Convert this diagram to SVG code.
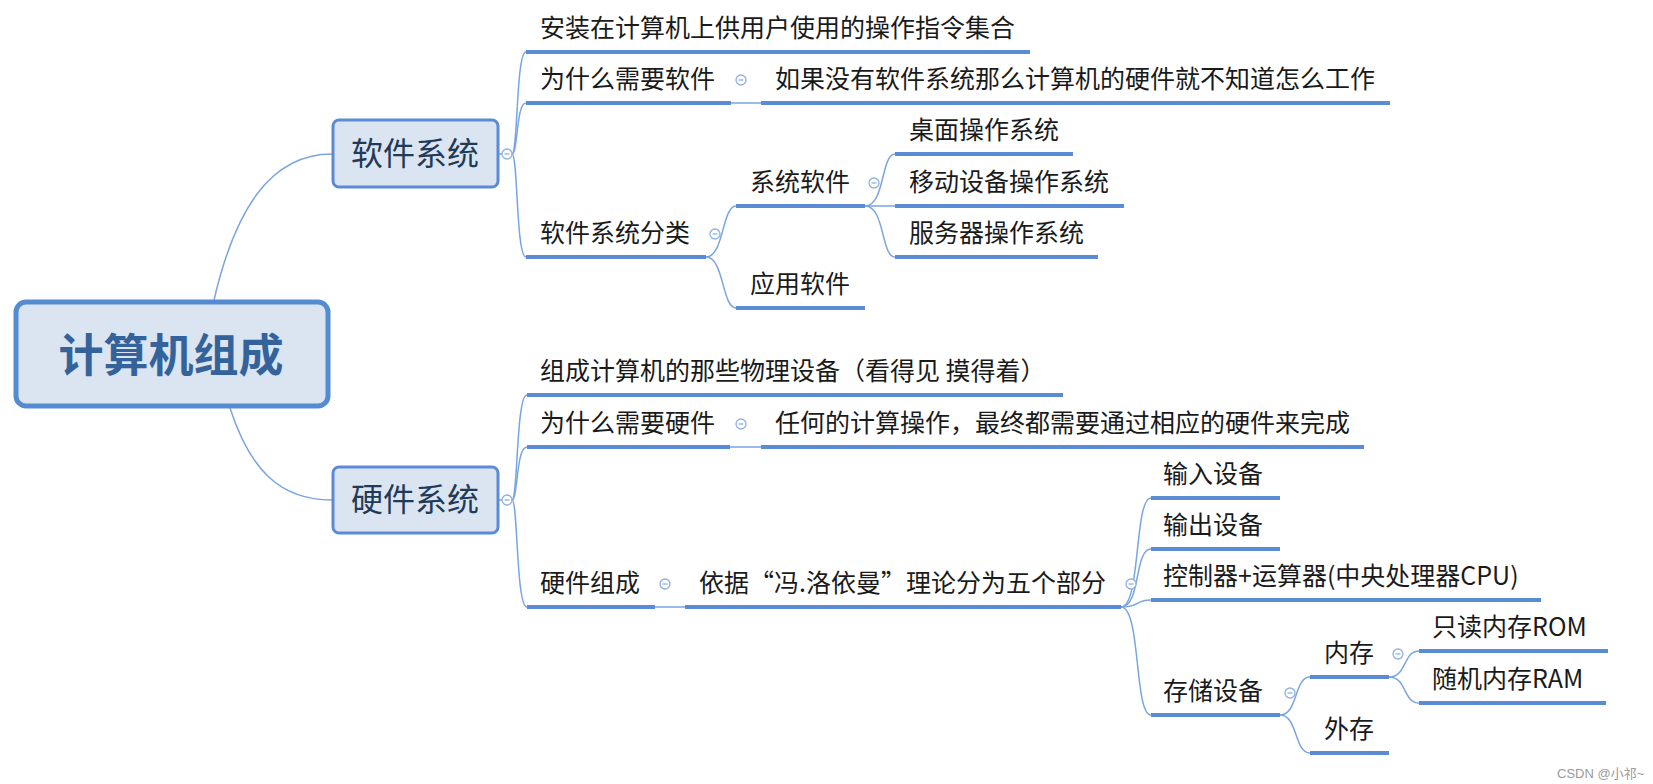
<svg xmlns="http://www.w3.org/2000/svg" xmlns:xlink="http://www.w3.org/1999/xlink" width="1653" height="784" viewBox="0 0 1653 784">
<style>
.t{font-family:"Noto Sans CJK SC","Microsoft YaHei",sans-serif;font-size:25px;fill:#1a1a1a}
.ul{stroke:#5b8bd5;stroke-width:4;fill:none}
.br{stroke:#79a5e1;stroke-width:1.5;fill:none}
.box{fill:#dbe5f1;stroke:#5b8bd5;stroke-width:3}
.bt{font-family:"Noto Sans CJK SC","Microsoft YaHei",sans-serif;font-size:32px;fill:#223a57;text-anchor:middle}
.root{fill:#dbe5f1;stroke:#558bd0;stroke-width:5}
.rt{font-family:"Noto Sans CJK SC","Microsoft YaHei",sans-serif;font-size:45px;font-weight:bold;fill:#33639a;text-anchor:middle}
.wm{font-family:"Liberation Sans","Noto Sans CJK SC",sans-serif;font-size:13px;fill:#9a9a9a}
</style>
<defs>
<g id="col">
<circle cx="0" cy="0" r="5" fill="#fff" stroke="#8db1e4" stroke-width="1.3"/>
<line x1="-2.5" y1="0" x2="2.5" y2="0" stroke="#8db1e4" stroke-width="1.3"/>
</g>
</defs>
<rect width="1653" height="784" fill="#fff"/>

<g id="connectors">
<path class="br" d="M214 300 C235 210 270 154 332 154"/>
<path class="br" d="M230 408 C250 470 280 500 332 500"/>
<path class="br" d="M498 154 L502 154"/>
<path class="br" d="M498 500 L502 500"/>
<path class="br" d="M512 154 C518 154 516 52 526 52"/>
<path class="br" d="M512 154 C518 154 516 103 526 103"/>
<path class="br" d="M512 154 C518 154 516 257 526 257"/>
<path class="br" d="M512 500 C518 500 516 395 527 395"/>
<path class="br" d="M512 500 C518 500 516 447 527 447"/>
<path class="br" d="M512 500 C518 500 516 607 527 607"/>
<path class="br" d="M731 103 L761 103"/>
<path class="br" d="M730 447 L761 447"/>
<path class="br" d="M655 607 L685 607"/>
<path class="br" d="M706 257 C724 257 722 206 736 206"/>
<path class="br" d="M706 257 C724 257 722 308 736 308"/>
<path class="br" d="M865 206 C885 206 881 154 895 154"/>
<path class="br" d="M865 206 L895 206"/>
<path class="br" d="M865 206 C885 206 881 257 895 257"/>
<path class="br" d="M1121 607 C1141 607 1134 498 1151 498"/>
<path class="br" d="M1121 607 C1141 607 1134 549 1151 549"/>
<path class="br" d="M1121 607 C1141 607 1134 600 1151 600"/>
<path class="br" d="M1121 607 C1141 607 1134 715 1151 715"/>
<path class="br" d="M1280 715 C1298 715 1294 677 1310 677"/>
<path class="br" d="M1280 715 C1298 715 1294 753 1310 753"/>
<path class="br" d="M1389 677 C1407 677 1403 651 1419 651"/>
<path class="br" d="M1389 677 C1407 677 1403 703 1419 703"/>
</g>

<g id="root">
<rect class="root" x="16" y="302" width="312" height="104" rx="10"/>
<text class="rt" x="171" y="372">计算机组成</text>
</g>

<g id="software">
<rect class="box" x="333" y="120" width="165" height="67" rx="6"/>
<text class="bt" x="415" y="165">软件系统</text>
<use xlink:href="#col" x="507" y="154"/>
</g>

<g id="hardware">
<rect class="box" x="333" y="467" width="165" height="66" rx="6"/>
<text class="bt" x="415" y="511">硬件系统</text>
<use xlink:href="#col" x="507" y="500"/>
</g>

<g id="sw-def">
<text class="t" x="540" y="37">安装在计算机上供用户使用的操作指令集合</text>
<line class="ul" x1="526" y1="52" x2="1030" y2="52"/>
</g>
<g id="sw-why">
<text class="t" x="540" y="88">为什么需要软件</text>
<line class="ul" x1="526" y1="103" x2="731" y2="103"/>
<use xlink:href="#col" x="741" y="80"/>
</g>
<g id="sw-why-ans">
<text class="t" x="775" y="88">如果没有软件系统那么计算机的硬件就不知道怎么工作</text>
<line class="ul" x1="761" y1="103" x2="1390" y2="103"/>
</g>
<g id="sw-class">
<text class="t" x="540" y="242">软件系统分类</text>
<line class="ul" x1="526" y1="257" x2="706" y2="257"/>
<use xlink:href="#col" x="715" y="234"/>
</g>
<g id="sys-sw">
<text class="t" x="750" y="191">系统软件</text>
<line class="ul" x1="736" y1="206" x2="865" y2="206"/>
<use xlink:href="#col" x="874" y="183"/>
</g>
<g id="app-sw">
<text class="t" x="750" y="293">应用软件</text>
<line class="ul" x1="736" y1="308" x2="865" y2="308"/>
</g>
<g id="desktop-os">
<text class="t" x="909" y="139">桌面操作系统</text>
<line class="ul" x1="895" y1="154" x2="1073" y2="154"/>
</g>
<g id="mobile-os">
<text class="t" x="909" y="191">移动设备操作系统</text>
<line class="ul" x1="895" y1="206" x2="1124" y2="206"/>
</g>
<g id="server-os">
<text class="t" x="909" y="242">服务器操作系统</text>
<line class="ul" x1="895" y1="257" x2="1098" y2="257"/>
</g>

<g id="hw-def">
<text class="t" x="540" y="380">组成计算机的那些物理设备（看得见 摸得着）</text>
<line class="ul" x1="527" y1="395" x2="1063" y2="395"/>
</g>
<g id="hw-why">
<text class="t" x="540" y="432">为什么需要硬件</text>
<line class="ul" x1="527" y1="447" x2="730" y2="447"/>
<use xlink:href="#col" x="741" y="424"/>
</g>
<g id="hw-why-ans">
<text class="t" x="775" y="432">任何的计算操作，最终都需要通过相应的硬件来完成</text>
<line class="ul" x1="761" y1="447" x2="1364" y2="447"/>
</g>
<g id="hw-comp">
<text class="t" x="540" y="592">硬件组成</text>
<line class="ul" x1="527" y1="607" x2="655" y2="607"/>
<use xlink:href="#col" x="665" y="584"/>
</g>
<g id="von">
<text class="t" x="699" y="592">依据“冯.洛依曼”理论分为五个部分</text>
<line class="ul" x1="685" y1="607" x2="1121" y2="607"/>
<use xlink:href="#col" x="1131" y="584"/>
</g>
<g id="input">
<text class="t" x="1163" y="483">输入设备</text>
<line class="ul" x1="1151" y1="498" x2="1280" y2="498"/>
</g>
<g id="output">
<text class="t" x="1163" y="534">输出设备</text>
<line class="ul" x1="1151" y1="549" x2="1280" y2="549"/>
</g>
<g id="cpu">
<text class="t" x="1163" y="585">控制器+运算器(中央处理器CPU)</text>
<line class="ul" x1="1151" y1="600" x2="1541" y2="600"/>
</g>
<g id="storage">
<text class="t" x="1163" y="700">存储设备</text>
<line class="ul" x1="1151" y1="715" x2="1280" y2="715"/>
<use xlink:href="#col" x="1290" y="693"/>
</g>
<g id="mem">
<text class="t" x="1324" y="662">内存</text>
<line class="ul" x1="1310" y1="677" x2="1389" y2="677"/>
<use xlink:href="#col" x="1398" y="654"/>
</g>
<g id="ext">
<text class="t" x="1324" y="738">外存</text>
<line class="ul" x1="1310" y1="753" x2="1389" y2="753"/>
</g>
<g id="rom">
<text class="t" x="1432" y="636">只读内存ROM</text>
<line class="ul" x1="1419" y1="651" x2="1608" y2="651"/>
</g>
<g id="ram">
<text class="t" x="1432" y="688">随机内存RAM</text>
<line class="ul" x1="1419" y1="703" x2="1606" y2="703"/>
</g>

<text class="wm" x="1557" y="778">CSDN @小祁~</text>
</svg>
